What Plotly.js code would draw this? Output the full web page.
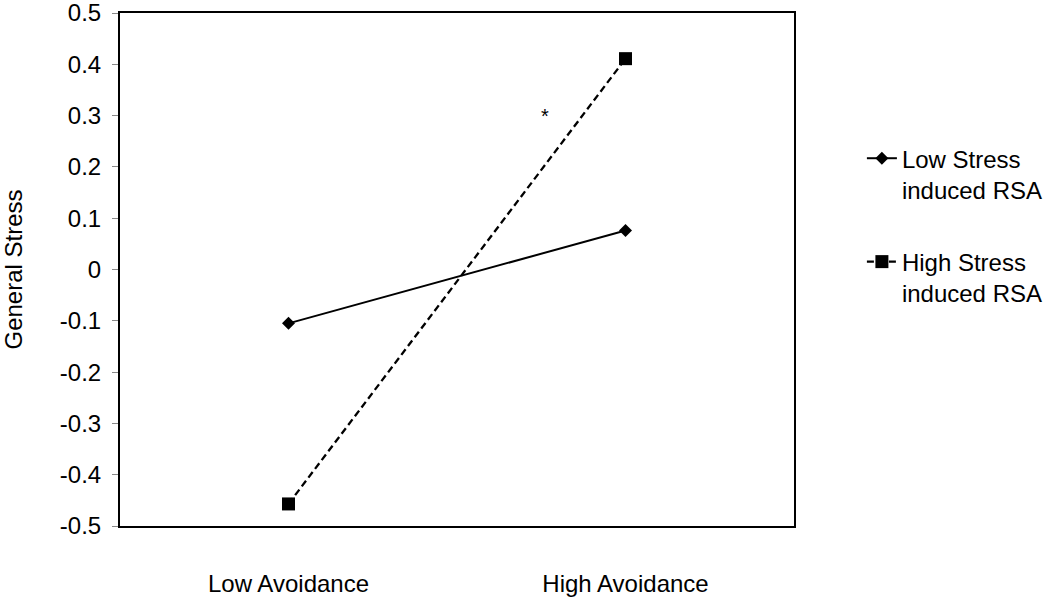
<!DOCTYPE html>
<html>
<head>
<meta charset="utf-8">
<script src="https://cdn.plot.ly/plotly-3.0.1.min.js"></script>
<style>html,body{margin:0;padding:0;background:#fff;}#chart{width:1050px;height:599px;}</style>
</head>
<body>
<div id="chart"></div>
<script>
const categories = ["Low Avoidance", "High Avoidance"];
const lowStressRSA = [-0.105, 0.076];
const highStressRSA = [-0.457, 0.411];
const yTicks = [-0.5, -0.4, -0.3, -0.2, -0.1, 0, 0.1, 0.2, 0.3, 0.4, 0.5];
const yTickLabels = ["-0.5", "-0.4", "-0.3", "-0.2", "-0.1", "0", "0.1", "0.2", "0.3", "0.4", "0.5"];
const sigLabel = "*";
const sigPos = {x: 0.76, y: 0.30};

const font = "Liberation Sans, Arial, sans-serif";
const traces = [
  {x: categories, y: lowStressRSA, name: "Low Stress<br>induced RSA", type: "scatter", mode: "lines+markers",
   legendgroup: "a",
   line: {color: "#000", width: 2}, marker: {symbol: "diamond", size: 10, color: "#000"}},
  {x: categories, y: highStressRSA, name: "High Stress<br>induced RSA", type: "scatter", mode: "lines+markers",
   legendgroup: "b",
   line: {color: "#000", width: 2.3, dash: "7px,4px"}, marker: {symbol: "square", size: 13, color: "#000"}}
];
const layout = {
  width: 1050, height: 599,
  margin: {l: 120, r: 256, t: 13, b: 73},
  paper_bgcolor: "#fff", plot_bgcolor: "#fff",
  font: {family: font, color: "#000", size: 24},
  showlegend: true,
  legend: {xref: "container", x: 0.998, xanchor: "right", y: 0.76, yanchor: "top", valign: "top",
    font: {family: font, size: 24, color: "#000"}, tracegroupgap: 38, bgcolor: "rgba(0,0,0,0)"},
  xaxis: {type: "category", range: [-0.5, 1.5], showgrid: false, zeroline: false,
    showline: true, linecolor: "#000", linewidth: 2, mirror: true, ticks: "",
    ticklabelstandoff: 35, tickfont: {family: font, size: 24}},
  yaxis: {range: [-0.5, 0.5], tickvals: yTicks, ticktext: yTickLabels, showgrid: false, zeroline: false,
    showline: true, linecolor: "#000", linewidth: 2, mirror: true, ticks: "outside", ticklen: 6,
    tickcolor: "#888", tickwidth: 1, tickfont: {family: font, size: 24}, ticklabelstandoff: 6,
    ticklabeloverflow: "allow",
    title: {text: "General Stress", font: {family: font, size: 24}, standoff: 30}},
  annotations: [{x: sigPos.x, y: sigPos.y, xref: "x", yref: "y", text: sigLabel, showarrow: false,
    font: {family: font, size: 20, color: "#000"}}]
};
Plotly.newPlot("chart", traces, layout, {displayModeBar: false, staticPlot: true});
</script>
</body>
</html>
